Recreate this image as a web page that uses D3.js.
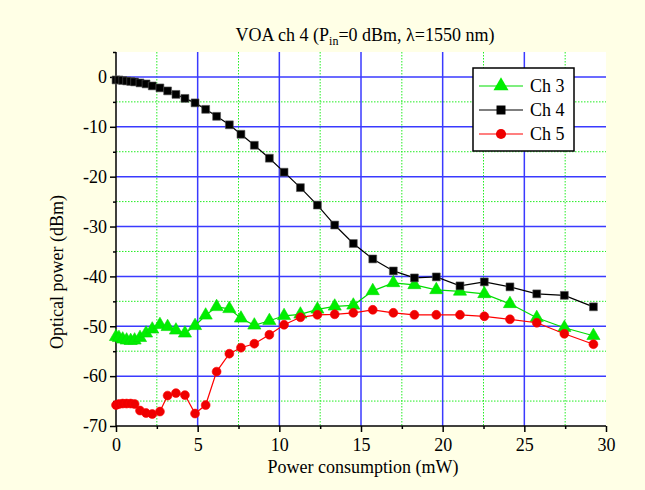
<!DOCTYPE html>
<html>
<head>
<meta charset="utf-8">
<script src="https://cdn.jsdelivr.net/npm/d3@7"></script>
<style>
  body { margin: 0; background: #ffffe6; }
  svg { display: block; font-family: "Liberation Serif", "Times New Roman", serif; }
</style>
</head>
<body>
<script>
// power consumption (mW), shared by all channels
const power = [0, 0.18, 0.41, 0.65, 0.9, 1.14, 1.47, 1.84, 2.22, 2.69, 3.16, 3.67, 4.22, 4.84,
    5.49, 6.16, 6.94, 7.65, 8.47, 9.39, 10.29, 11.29, 12.33, 13.39, 14.53, 15.72, 16.98,
    18.27, 19.61, 21.06, 22.55, 24.12, 25.76, 27.45, 29.23];

const ch3 = [-52.1, -52.3, -52.6, -52.8, -52.9, -52.8, -52.3, -51.4, -50.6, -49.7, -50.1, -50.8,
    -51.4, -49.9, -47.8, -46.1, -46.5, -48.4, -49.8, -48.9, -47.9, -47.6, -46.6, -46.0, -45.8,
    -42.9, -41.3, -41.7, -42.7, -43.0, -43.5, -45.5, -48.3, -50.3, -51.9];

const ch4 = [-0.6, -0.6, -0.7, -0.8, -0.9, -1.0, -1.2, -1.4, -1.8, -2.2, -2.8, -3.5, -4.3, -5.2,
    -6.5, -7.9, -9.6, -11.5, -13.7, -16.3, -19.1, -22.2, -25.7, -29.7, -33.4, -36.5, -38.9,
    -40.3, -40.1, -41.9, -41.1, -42.1, -43.5, -43.8, -46.1];

const ch5 = [-65.8, -65.6, -65.5, -65.5, -65.5, -65.6, -66.9, -67.4, -67.6, -67.1, -63.9, -63.4,
    -63.8, -67.5, -65.8, -59.1, -55.5, -54.3, -53.5, -51.7, -49.7, -48.2, -47.7, -47.6, -47.3,
    -46.7, -47.3, -47.7, -47.7, -47.7, -48.0, -48.6, -49.3, -51.5, -53.6];

const xTicks = [0, 5, 10, 15, 20, 25, 30];
const yTicks = [0, -10, -20, -30, -40, -50, -60, -70];

const series = [
    { name: "Ch 3", values: ch3, color: "#00dd00", fill: "#00ee00", shape: d3.symbolTriangle, size: 75 },
    { name: "Ch 4", values: ch4, color: "#000000", fill: "#000000", shape: d3.symbolSquare, size: 62 },
    { name: "Ch 5", values: ch5, color: "#ff0000", fill: "#ee0000", shape: d3.symbolCircle, size: 62 }
];

const width = 645, height = 490;
const margin = { left: 116, right: 39, top: 52, bottom: 64 };

const svg = d3.select("body").append("svg")
    .attr("width", width)
    .attr("height", height);

svg.append("rect").attr("width", width).attr("height", height).attr("fill", "#ffffe6");

const x = d3.scaleLinear().domain([0, 30]).range([margin.left, width - margin.right]);
const y = d3.scaleLinear().domain([-70, 5]).range([height - margin.bottom, margin.top]);

// plot area
svg.append("rect")
    .attr("x", x(0)).attr("y", y(5))
    .attr("width", x(30) - x(0)).attr("height", y(-70) - y(5))
    .attr("fill", "#ffffff");

// minor grid (green dotted)
const xMinor = d3.range(2.5, 30, 5);
const yMinor = d3.range(-65, 5, 10);
svg.append("g").selectAll("line").data(xMinor).join("line")
    .attr("x1", d => x(d)).attr("x2", d => x(d))
    .attr("y1", y(5)).attr("y2", y(-70))
    .attr("stroke", "#22ee22").attr("stroke-width", 1).attr("stroke-dasharray", "1.5,1.5");
svg.append("g").selectAll("line").data(yMinor).join("line")
    .attr("x1", x(0)).attr("x2", x(30))
    .attr("y1", d => y(d)).attr("y2", d => y(d))
    .attr("stroke", "#22ee22").attr("stroke-width", 1).attr("stroke-dasharray", "1.5,1.5");

// major grid (blue)
svg.append("g").selectAll("line").data(xTicks.slice(1, -1)).join("line")
    .attr("x1", d => x(d)).attr("x2", d => x(d))
    .attr("y1", y(5)).attr("y2", y(-70))
    .attr("stroke", "#3a3aff").attr("stroke-width", 1.5);
svg.append("g").selectAll("line").data(yTicks.slice(0, -1)).join("line")
    .attr("x1", x(0)).attr("x2", x(30))
    .attr("y1", d => y(d)).attr("y2", d => y(d))
    .attr("stroke", "#3a3aff").attr("stroke-width", 1.5);

// axes
const xAxis = svg.append("g")
    .attr("transform", `translate(0,${y(-70)})`)
    .call(d3.axisBottom(x).tickValues(xTicks).tickSize(6).tickPadding(6));
svg.append("g")
    .attr("transform", `translate(0,${y(-70)})`)
    .call(d3.axisBottom(x).tickValues(xMinor).tickSize(3).tickFormat(""))
    .select(".domain").remove();

const yAxis = svg.append("g")
    .attr("transform", `translate(${x(0)},0)`)
    .call(d3.axisLeft(y).tickValues(yTicks).tickSize(6).tickPadding(3).tickFormat(d => d === 0 ? "0" : "-" + Math.abs(d)));
svg.append("g")
    .attr("transform", `translate(${x(0)},0)`)
    .call(d3.axisLeft(y).tickValues(yMinor.concat([5])).tickSize(3).tickFormat(""))
    .select(".domain").remove();

svg.selectAll(".domain").attr("stroke-width", 1.5);
svg.selectAll(".tick line").attr("stroke-width", 1.5);
svg.selectAll(".tick text").attr("font-size", 18).attr("font-family", "Liberation Serif").attr("fill", "#000");
xAxis.select(".domain").attr("d", `M${x(0)},0H${x(30)}`);
yAxis.select(".domain").attr("d", `M0,${y(5)}V${y(-70)}`);

// lines + markers
const line = d3.line().x((d, i) => x(power[i])).y(d => y(d));

series.forEach(s => {
    svg.append("path")
        .datum(s.values)
        .attr("d", line)
        .attr("fill", "none")
        .attr("stroke", s.color)
        .attr("stroke-width", 1.2);
    svg.append("g").selectAll("path").data(s.values).join("path")
        .attr("transform", (d, i) => `translate(${x(power[i])},${y(d)})`)
        .attr("d", d3.symbol().type(s.shape).size(s.size))
        .attr("fill", s.fill)
        .attr("stroke", s.shape === d3.symbolSquare ? "#555" : s.color)
        .attr("stroke-width", 0.6);
});

// title
const title = svg.append("text")
    .attr("x", 365).attr("y", 41)
    .attr("text-anchor", "middle")
    .attr("font-size", 18);
title.append("tspan").text("VOA ch 4 (P");
title.append("tspan").attr("font-size", 12).attr("dy", 4).text("in");
title.append("tspan").attr("dy", -4).text("=0 dBm, λ=1550 nm)");

// axis labels
svg.append("text")
    .attr("x", 363).attr("y", 473)
    .attr("text-anchor", "middle")
    .attr("font-size", 18)
    .text("Power consumption (mW)");

svg.append("text")
    .attr("transform", "translate(63,272) rotate(-90)")
    .attr("text-anchor", "middle")
    .attr("font-size", 18)
    .text("Optical power (dBm)");

// legend
const legend = svg.append("g");
legend.append("rect")
    .attr("x", 473).attr("y", 68)
    .attr("width", 101).attr("height", 83)
    .attr("fill", "#fff").attr("stroke", "#000").attr("stroke-width", 1.5);

series.forEach((s, i) => {
    const ly = 86 + i * 24;
    legend.append("line")
        .attr("x1", 479).attr("x2", 523)
        .attr("y1", ly).attr("y2", ly)
        .attr("stroke", s.color).attr("stroke-width", 1.2);
    legend.append("path")
        .attr("transform", `translate(501,${ly})`)
        .attr("d", d3.symbol().type(s.shape).size(s.size * 1.3))
        .attr("fill", s.fill);
    legend.append("text")
        .attr("x", 530).attr("y", ly + 6)
        .attr("font-size", 18)
        .text(s.name);
});
</script>
</body>
</html>
